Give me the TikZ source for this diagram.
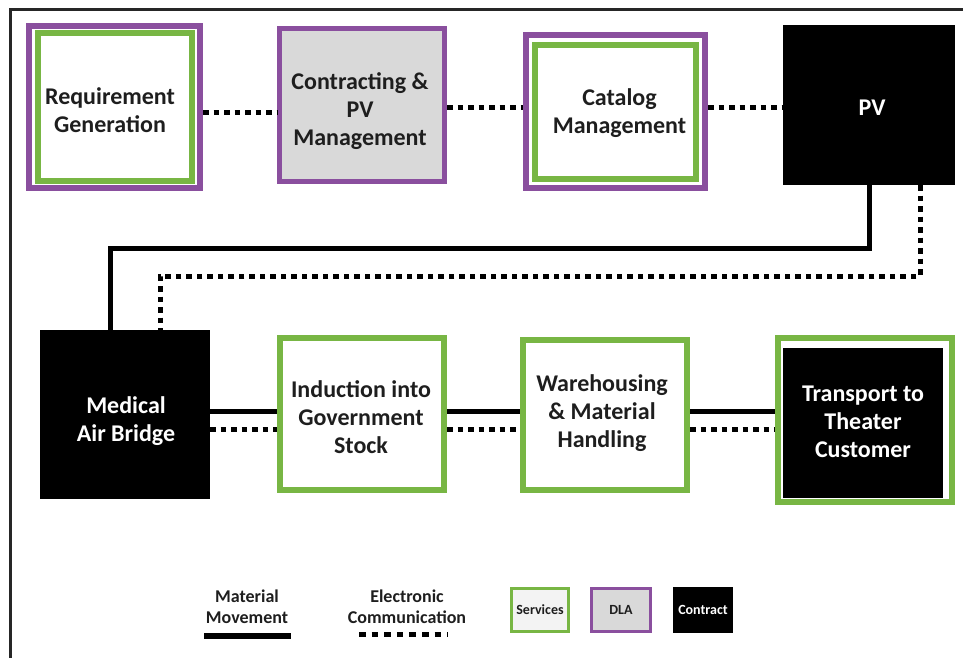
\documentclass[tikz,border=0pt]{standalone}
\usepackage{fontspec}
\setmainfont{Carlito}
\usetikzlibrary{calc}
\definecolor{dlapurple}{HTML}{8A4F9E}
\definecolor{svcgreen}{HTML}{78B644}
\definecolor{dlagray}{HTML}{D9D9D9}
\definecolor{svcfill}{HTML}{F3F3F3}
\definecolor{txt}{HTML}{1E1E1E}
\tikzset{
  box/.style={rectangle, inner sep=0pt},
  tx/.style={inner sep=0pt, align=center, font=\bfseries\fontsize{24}{28}\selectfont, text=txt},
  wtx/.style={tx, text=white},
  dlabox/.style={box, draw=dlapurple, line width=6pt},
  svcbox/.style={box, draw=svcgreen, line width=6pt},
  conbox/.style={box, fill=black},
  solidline/.style={line width=5pt, black},
  dotline/.style={line width=5pt, black, dash pattern=on 5.5pt off 5pt},
  legdot/.style={line width=5pt, black, dash pattern=on 6.5pt off 6.1pt},
  leg/.style={font=\bfseries\fontsize{18}{21}\selectfont, align=center, text=txt},
  legbox/.style={rectangle, inner sep=0pt, align=center, font=\bfseries\fontsize{14}{16}\selectfont, text=txt, minimum height=43pt},
  frameline/.style={line width=2.5pt, black!85},
}
\begin{document}
\begin{tikzpicture}[x=1pt, y=-1pt]
\useasboundingbox (0,0) rectangle (963,658);
\draw[frameline] (10.5,658) -- (10.5,9.5) -- (963,9.5);

% top row
\node[dlabox, minimum width=171pt, minimum height=162pt] (rg) at (114.5,107) {};
\node[svcbox, minimum width=154pt, minimum height=147pt,
  label={[tx, xshift=-5pt, yshift=-3pt]center:{Requirement\\Generation}}] (rgin) at (115,107) {};
\node[dlabox, line width=5pt, fill=dlagray, minimum width=165pt, minimum height=153pt,
  label={[tx, xshift=-2pt, yshift=-6pt]center:{Contracting \&\\PV\\Management}}] (cpv) at (362,105) {};
\node[dlabox, minimum width=179pt, minimum height=153pt] (cat) at (615.5,111.5) {};
\node[svcbox, minimum width=161pt, minimum height=134.5pt,
  label={[tx, xshift=4pt, yshift=-1pt]center:{Catalog\\Management}}] (catin) at (615.5,111.8) {};
\node[conbox, minimum width=172pt, minimum height=160pt,
  label={[wtx, xshift=3pt, yshift=-3pt]center:PV}] (pv) at (869,105) {};

% bottom row
\node[conbox, minimum width=170pt, minimum height=169pt,
  label={[wtx, xshift=1pt, yshift=-7pt]center:{Medical\\Air Bridge}}] (mab) at (125,414.5) {};
\node[svcbox, minimum width=164pt, minimum height=152pt,
  label={[tx, xshift=-1pt, yshift=-3pt]center:{Induction into\\Government\\Stock}}] (igs) at (362,414) {};
\node[svcbox, minimum width=164pt, minimum height=150pt,
  label={[tx, xshift=-3pt, yshift=2pt]center:{Warehousing\\\& Material\\Handling}}] (wmh) at (605,415) {};
\node[svcbox, minimum width=174pt, minimum height=164pt] (ttc) at (865,420) {};
\node[conbox, minimum width=160pt, minimum height=150pt,
  label={[wtx, xshift=0pt, yshift=1pt]center:{Transport to\\Theater\\Customer}}] (ttcin) at (863,423) {};

% top connectors
\draw[dotline] ([yshift=-6pt]rg.east) -- ([yshift=-6pt]rg.east -| cpv.west);
\draw[dotline] ([yshift=-3pt]cpv.east) -- ([yshift=-3pt]cpv.east -| cat.west);
\draw[dotline] ([yshift=3.5pt]cat.east) -- ([yshift=3.5pt]cat.east -| pv.west);

% PV to Medical Air Bridge
\coordinate (sbend) at (110,248);
\coordinate (dbend) at (160,276);
\draw[solidline] (pv.south) |- (sbend) -- (sbend |- mab.north);
\draw[dotline] ([xshift=51pt]pv.south) |- (dbend) -- (dbend |- mab.north);

% bottom connectors
\draw[solidline] ([yshift=3.5pt]mab.east) -- ([yshift=3.5pt]mab.east -| igs.west);
\draw[dotline] ([yshift=-14.5pt]mab.east) -- ([yshift=-14.5pt]mab.east -| igs.west);
\draw[solidline] ([yshift=3pt]igs.east) -- ([yshift=3pt]igs.east -| wmh.west);
\draw[dotline] ([yshift=-15pt]igs.east) -- ([yshift=-15pt]igs.east -| wmh.west);
\draw[solidline] ([yshift=4pt]wmh.east) -- ([yshift=4pt]wmh.east -| ttc.west);
\draw[dotline] ([yshift=-14pt]wmh.east) -- ([yshift=-14pt]wmh.east -| ttc.west);

% legend
\node[leg] (lmm) at (247,607) {Material\\Movement};
\coordinate (lm1) at (204,636);
\coordinate (lm2) at (291,636);
\draw[line width=6pt] (lm1) -- (lm2);
\node[leg] (lec) at (407,607) {Electronic\\Communication};
\coordinate (le1) at (359,634);
\coordinate (le2) at (448,634);
\draw[legdot] (le1) -- (le2);
\node[legbox, draw=svcgreen, line width=3pt, fill=svcfill, minimum width=57pt] (lsv) at (540,610) {Services};
\node[legbox, draw=dlapurple, line width=3pt, fill=dlagray, minimum width=59pt] (ldla) at (621,610) {DLA};
\node[legbox, fill=black, text=white, minimum width=60pt, minimum height=46pt] (lcon) at (703,610) {Contract};
\end{tikzpicture}
\end{document}
